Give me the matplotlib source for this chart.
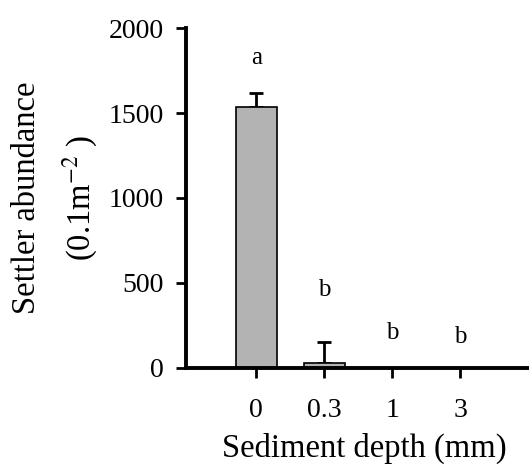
import numpy as np
import matplotlib.pyplot as plt

depths = ["0", "0.3", "1", "3"]
abundance = [1535, 31, 0, 0]
err_up = [85, 122, 0, 0]
letters = ["a", "b", "b", "b"]
letter_y = [1825, 460, 205, 180]

plt.rcParams["font.family"] = "Liberation Serif"
plt.rcParams["mathtext.fontset"] = "stix"

fig = plt.figure(figsize=(5.29, 4.68), dpi=100)
ax = fig.add_axes([0.352, 0.214, 0.648, 0.726])

x = np.arange(len(depths))
ax.bar(x, abundance, width=0.6, color="#b3b3b3", edgecolor="black", linewidth=1.2, zorder=2)
ax.errorbar(x[:2], abundance[:2], yerr=[[0, 0], err_up[:2]], fmt="none",
            ecolor="black", elinewidth=2, capsize=5, capthick=2, zorder=1)
for xi, lab, ly in zip(x, letters, letter_y):
    ax.text(xi, ly, lab, ha="center", va="center", fontsize=18)

ax.set_xlim(-1.03, 4.01)
ax.set_ylim(0, 2000)
ax.set_yticks([0, 500, 1000, 1500, 2000])
ax.set_xticks(x)
ax.set_xticklabels(depths)
ax.spines["top"].set_visible(False)
ax.spines["right"].set_visible(False)
ax.spines["left"].set_linewidth(2.8)
ax.spines["bottom"].set_linewidth(2.8)
ax.tick_params(axis="both", direction="out", length=7, width=2, labelsize=20)
ax.tick_params(axis="y", pad=9)
ax.tick_params(axis="x", pad=15)
ax.set_xlabel("Sediment depth (mm)", fontsize=23.5, labelpad=7)
ax.xaxis.label.set_x(0.52)
ax.set_ylabel("Settler abundance\n(0.1m$^{-2}$ )", fontsize=23.5, labelpad=6,
              linespacing=1.65)

fig.savefig("out.png", dpi=100)
